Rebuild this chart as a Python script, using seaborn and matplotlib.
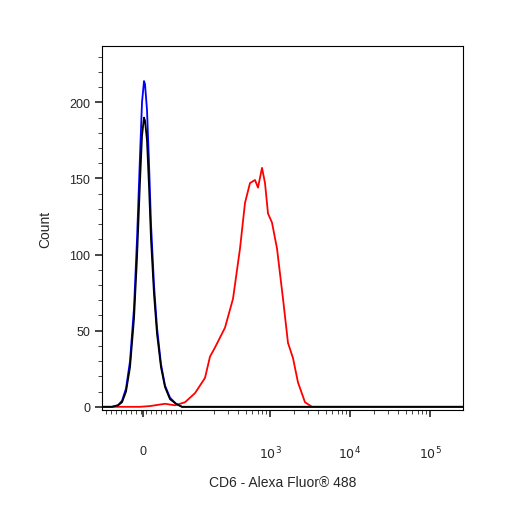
import matplotlib
matplotlib.use("Agg")
import matplotlib.pyplot as plt
import seaborn as sns
import numpy as np
import pandas as pd

sns.set_style("ticks")
plt.rcParams['font.family'] = ['Liberation Sans', 'DejaVu Sans']

def px2t(x):
    return (x - 270) / 80 + 3

blue_px = [102, 112, 118, 122, 126, 130, 134, 137, 140, 142, 144, 145, 147, 149, 151, 154, 157, 161, 165, 170, 176, 182, 463]
blue_y  = [0, 0, 1, 4, 12, 30, 65, 110, 165, 200, 214, 212, 195, 160, 120, 80, 52, 28, 14, 6, 2, 0, 0]
black_px = [102, 112, 118, 122, 126, 130, 134, 137, 140, 142, 144, 145, 147, 149, 151, 154, 157, 161, 165, 170, 176, 182, 463]
black_y  = [0, 0, 1, 3, 10, 26, 58, 98, 148, 178, 190, 188, 175, 145, 110, 74, 48, 26, 13, 5, 2, 0, 0]
red_px = [102, 140, 150, 165, 175, 185, 195, 205, 210, 215, 225, 233, 240, 245, 250, 255, 258,
          262, 265, 268, 272, 277, 283, 288, 293, 298, 305, 312, 463]
red_y  = [0, 0, 0.5, 2, 1, 3, 9, 19, 33, 39, 52, 71, 104, 134, 147, 149, 144,
          157, 147, 127, 121, 104, 71, 42, 32, 16, 3, 0, 0]

xtick_vals = [px2t(143), 3, 4, 5]
xtick_labels = ["0", "$10^3$", "$10^4$", "$10^5$"]

fig = plt.figure(figsize=(5.06, 5.06), dpi=100)
ax = fig.add_axes([0.2016, 0.188, 0.7134, 0.719])
for px, y, c in [(blue_px, blue_y, "blue"), (red_px, red_y, "red"), (black_px, black_y, "black")]:
    df = pd.DataFrame({"t": [px2t(p) for p in px], "n": y})
    sns.lineplot(data=df, x="t", y="n", color=c, lw=1.3, ax=ax, sort=False)

ax.set_xlim(px2t(102), px2t(463))
ax.set_ylim(-2, 237)
ax.set_xticks(xtick_vals)
ax.set_xticklabels(xtick_labels, fontsize=9)
minor = []
for d in (2, 3, 4):
    minor += [d + np.log10(k) for k in range(2, 10)]
minor += [px2t(p) for p in range(106, 182, 5)]
ax.set_xticks(minor, minor=True)
ax.set_yticks([0, 50, 100, 150, 200])
ax.set_yticklabels(["0", "50", "100", "150", "200"], fontsize=9)
ax.set_yticks(range(0, 237, 10), minor=True)
ax.tick_params(which="major", direction="out", length=5, width=1.2)
ax.tick_params(which="minor", direction="out", length=3)
ax.tick_params(axis="x", which="major", pad=20)
ax.set_xlabel("CD6 - Alexa Fluor® 488", fontsize=10, labelpad=10)
ax.set_ylabel("Count", fontsize=10, labelpad=12)
for s in ax.spines.values():
    s.set_visible(True)
    s.set_color("black")
fig.savefig("out.png", dpi=100)
